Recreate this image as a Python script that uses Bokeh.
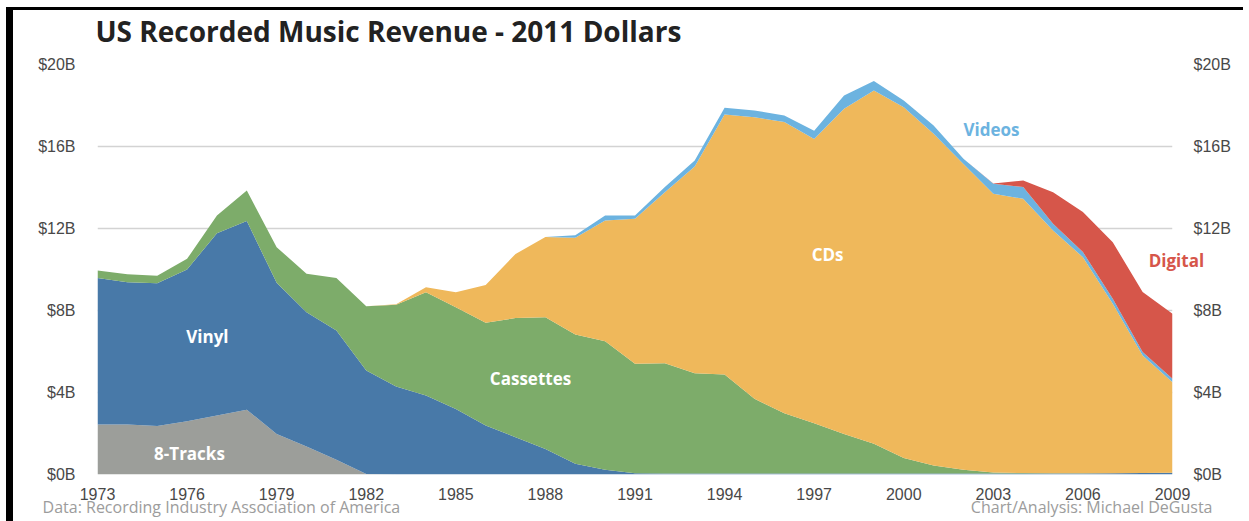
from bokeh.plotting import figure
from bokeh.models import (ColumnDataSource, FixedTicker, PrintfTickFormatter,
                          LinearAxis, Label, Range1d)
from bokeh.embed import file_html
from bokeh.resources import INLINE

# ---------------- data (US recorded music revenue, billions of 2011 dollars) ----------------
years = [1973, 1974, 1975, 1976, 1977, 1978, 1979, 1980, 1981, 1982,
         1983, 1984, 1985, 1986, 1987, 1988, 1989, 1990, 1991, 1992,
         1993, 1994, 1995, 1996, 1997, 1998, 1999, 2000, 2001, 2002,
         2003, 2004, 2005, 2006, 2007, 2008, 2009]

eight_tracks = [2.44, 2.44, 2.36, 2.60, 2.88, 3.16, 1.98, 1.37, 0.72, 0.03,
                0, 0, 0, 0, 0, 0, 0, 0, 0, 0,
                0, 0, 0, 0, 0, 0, 0, 0, 0, 0,
                0, 0, 0, 0, 0, 0, 0]
vinyl = [7.14, 6.94, 6.97, 7.40, 8.89, 9.20, 7.37, 6.55, 6.30, 5.04,
         4.29, 3.85, 3.20, 2.39, 1.82, 1.25, 0.52, 0.23, 0.06, 0.05,
         0.05, 0.05, 0.05, 0.05, 0.05, 0.05, 0.05, 0.05, 0.05, 0.05,
         0.05, 0.05, 0.05, 0.05, 0.06, 0.07, 0.08]
cassettes = [0.37, 0.39, 0.37, 0.52, 0.86, 1.49, 1.74, 1.87, 2.56, 3.14,
             3.99, 5.04, 4.96, 5.01, 5.81, 6.42, 6.31, 6.27, 5.34, 5.38,
             4.89, 4.83, 3.64, 2.94, 2.45, 1.93, 1.45, 0.76, 0.39, 0.18,
             0.05, 0.02, 0.01, 0.01, 0, 0, 0]
cds = [0, 0, 0, 0, 0, 0, 0, 0, 0, 0,
       0.02, 0.25, 0.73, 1.85, 3.13, 3.91, 4.72, 5.89, 7.07, 8.34,
       10.08, 12.68, 13.74, 14.20, 13.87, 15.86, 17.23, 17.11, 16.18, 14.92,
       13.60, 13.38, 11.84, 10.54, 8.27, 5.74, 4.42]
videos = [0, 0, 0, 0, 0, 0, 0, 0, 0, 0,
          0, 0, 0, 0, 0, 0, 0.12, 0.24, 0.16, 0.25,
          0.30, 0.33, 0.33, 0.32, 0.40, 0.65, 0.46, 0.32, 0.40, 0.25,
          0.48, 0.57, 0.33, 0.25, 0.24, 0.17, 0.17]
digital = [0, 0, 0, 0, 0, 0, 0, 0, 0, 0,
           0, 0, 0, 0, 0, 0, 0, 0, 0, 0,
           0, 0, 0, 0, 0, 0, 0, 0, 0, 0,
           0.02, 0.32, 1.54, 1.95, 2.76, 2.92, 3.17]

series_names = ["eight_tracks", "vinyl", "cassettes", "cds", "videos", "digital"]
series_colors = ["#9c9e9a", "#4879a8", "#7dac6a", "#efb85b", "#6cb3e0", "#d6564a"]

y_ticks = [0, 4, 8, 12, 16, 20]
x_ticks = [1973, 1976, 1979, 1982, 1985, 1988, 1991, 1994, 1997, 2000, 2003, 2006, 2009]

title_text = "US Recorded Music Revenue - 2011 Dollars"
source_left = "Data: Recording Industry Association of America"
source_right = "Chart/Analysis: Michael DeGusta"

# ---------------- figure ----------------
src = ColumnDataSource(dict(year=years, eight_tracks=eight_tracks, vinyl=vinyl,
                            cassettes=cassettes, cds=cds, videos=videos, digital=digital))

p = figure(frame_width=1075, frame_height=410, output_backend="svg", toolbar_location=None,
           x_range=Range1d(1973, 2009), y_range=Range1d(0, 20),
           min_border_left=84, min_border_right=71, min_border_top=54,
           min_border_bottom=46)
p.styles = {"margin-left": "6px", "margin-top": "7px",
            "border-left": "7px solid black", "border-top": "3px solid black"}
p.outline_line_color = None
p.background_fill_color = "white"
p.border_fill_color = "white"

p.varea_stack(stackers=series_names, x="year", color=series_colors, source=src)

p.xgrid.visible = False
p.ygrid.ticker = FixedTicker(ticks=y_ticks)
p.ygrid.grid_line_color = "#d3d3d3"
p.ygrid.grid_line_width = 1.5

p.yaxis.ticker = FixedTicker(ticks=y_ticks)
p.yaxis.formatter = PrintfTickFormatter(format="$%dB")
p.yaxis.major_label_standoff = 16

right_axis = LinearAxis(ticker=FixedTicker(ticks=y_ticks),
                        formatter=PrintfTickFormatter(format="$%dB"))
right_axis.major_label_standoff = 15
p.add_layout(right_axis, "right")

p.xaxis.ticker = FixedTicker(ticks=x_ticks)
p.xaxis.major_label_standoff = 7

for ax in p.xaxis + p.yaxis:
    ax.axis_line_color = None
    ax.major_tick_line_color = None
    ax.minor_tick_line_color = None
    ax.major_label_text_font = "Liberation Sans"
    ax.major_label_text_color = "#484848"
for ax in p.yaxis:
    ax.major_label_text_font_size = "16px"
for ax in p.xaxis:
    ax.major_label_text_font_size = "16px"

# ---------------- text ----------------
# texts that lie outside the data frame go into side panels so they are not clipped
p.add_layout(Label(x=1972.93, y=21.62, text=title_text, text_font="Open Sans",
                   text_font_style="bold", text_font_size="28px", text_color="#222222",
                   text_align="left", text_baseline="alphabetic"), "above")
p.add_layout(Label(x=1971.16, y=-1.60, text=source_left, text_font="Open Sans",
                   text_font_size="16px", text_color="#9c9c9c",
                   text_align="left", text_baseline="middle"), "below")
p.add_layout(Label(x=2010.34, y=-1.60, text=source_right, text_font="Open Sans",
                   text_font_size="16px", text_color="#9c9c9c",
                   text_align="right", text_baseline="middle"), "below")
p.add_layout(Label(x=2009.13, y=10.44, text="Digital", text_font="Open Sans",
                   text_font_style="bold", text_font_size="17px", text_color="#d6564a",
                   text_align="center", text_baseline="middle"), "below")

cat_labels = ["Vinyl", "8-Tracks", "Cassettes", "CDs", "Videos"]
cat_x = [1976.68, 1976.08, 1987.5, 1997.45, 2002.94]
cat_y = [6.73, 1.02, 4.68, 10.73, 16.83]
cat_colors = ["white", "white", "white", "white", "#6cb3e0"]
for t, lx, ly, c in zip(cat_labels, cat_x, cat_y, cat_colors):
    p.add_layout(Label(x=lx, y=ly, text=t, text_font="Open Sans", text_font_style="bold",
                       text_font_size="17px", text_color=c,
                       text_align="center", text_baseline="middle"))

open("out.html", "w").write(file_html(p, INLINE))
